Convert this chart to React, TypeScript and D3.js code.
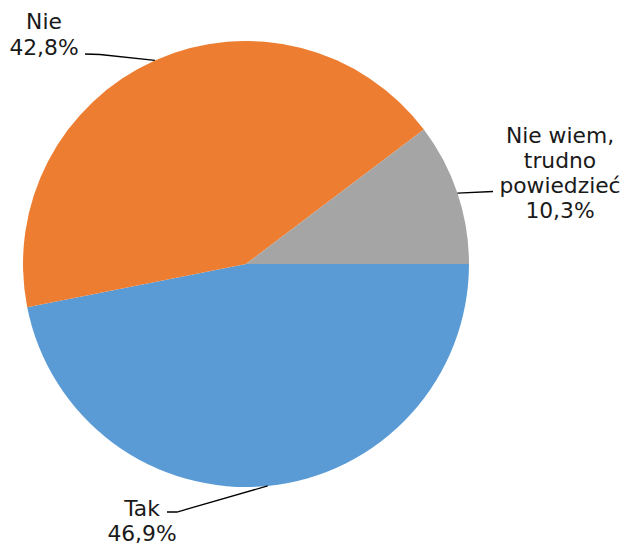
import React from "react";
import * as d3 from "d3";

const categories = ["Tak", "Nie", "Nie wiem, trudno powiedzieć"];
const values = [46.9, 42.8, 10.3];
const labelLines = [["Tak", "46,9%"], ["Nie", "42,8%"], ["Nie wiem,", "trudno", "powiedzieć", "10,3%"]];
const colors = ["#5B9BD5", "#ED7D31", "#A5A5A5"];

const W = 621;
const H = 545;
const cx = 246;
const cy = 264;
const R = 223;
const FONT = 21.8;

// label layout (anchor center x, first baseline y, line spacing) and leader elbow points (relative to page)
const labelLayout = [
  { x: 142, y: 515.5, dy: 25.3, elbow: [[177, 512], [167, 512]] },
  { x: 44, y: 29.3, dy: 25.7, elbow: [[100, 54.5], [85, 54]] },
  { x: 560, y: 143.3, dy: 25, elbow: [[493, 191.5]] },
];

export default function App() {
  const data = categories.map((c, i) => ({ c, v: values[i], i }));
  const pie = d3
    .pie<any>()
    .value((d) => d.v)
    .sort(null)
    .startAngle(Math.PI / 2)
    .endAngle(Math.PI / 2 + 2 * Math.PI);
  const arcs = pie(data);
  const arc = d3.arc<any>().innerRadius(0).outerRadius(R);
  const edge = d3.arc<any>().innerRadius(R).outerRadius(R);
  const line = d3.line();

  return (
    <svg
      width={W}
      height={H}
      style={{ position: "absolute", left: 0, top: 0, background: "#fff" }}
      fontFamily="'DejaVu Sans', Verdana, sans-serif"
    >
      <g transform={`translate(${cx},${cy})`}>
        {arcs.map((a, i) => (
          <path key={i} d={arc(a) as string} fill={colors[i]} />
        ))}
      </g>
      {arcs.map((a, i) => {
        const [px, py] = edge.centroid(a);
        const L = labelLayout[i];
        const pts: [number, number][] = [[cx + px, cy + py], ...(L.elbow as [number, number][])];
        return (
          <g key={"l" + i}>
            <path d={line(pts) as string} fill="none" stroke="#000" strokeWidth={1.3} />
            <text textAnchor="middle" fontSize={FONT} fill="#1a1a1a">
              {labelLines[i].map((t, j) => (
                <tspan key={j} x={L.x} y={L.y + j * L.dy}>
                  {t}
                </tspan>
              ))}
            </text>
          </g>
        );
      })}
    </svg>
  );
}
